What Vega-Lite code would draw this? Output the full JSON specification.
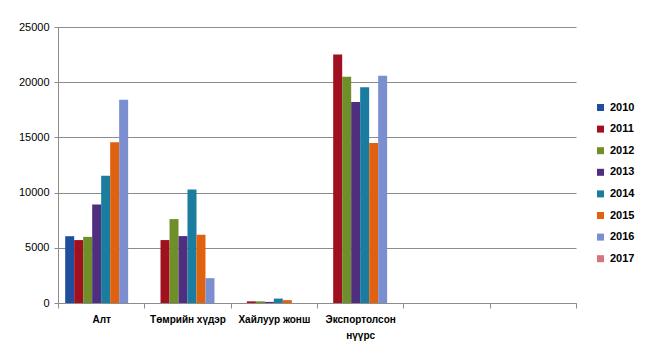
{
  "$schema": "https://vega.github.io/schema/vega-lite/v6.json",
  "autosize": {"type": "none"},
  "padding": {"left": 58, "top": 27, "right": 74, "bottom": 60},
  "width": 518,
  "height": 276,
  "background": "white",
  "config": {
    "view": {"stroke": null},
    "font": "Liberation Sans"
  },
  "data": {
    "values": [
      {"cat": "Алт", "year": "2010", "value": 6050},
      {"cat": "Алт", "year": "2011", "value": 5700},
      {"cat": "Алт", "year": "2012", "value": 5990},
      {"cat": "Алт", "year": "2013", "value": 8930},
      {"cat": "Алт", "year": "2014", "value": 11520},
      {"cat": "Алт", "year": "2015", "value": 14550},
      {"cat": "Алт", "year": "2016", "value": 18400},
      {"cat": "Төмрийн хүдэр", "year": "2011", "value": 5700},
      {"cat": "Төмрийн хүдэр", "year": "2012", "value": 7600},
      {"cat": "Төмрийн хүдэр", "year": "2013", "value": 6060},
      {"cat": "Төмрийн хүдэр", "year": "2014", "value": 10280},
      {"cat": "Төмрийн хүдэр", "year": "2015", "value": 6180},
      {"cat": "Төмрийн хүдэр", "year": "2016", "value": 2250},
      {"cat": "Хайлуур жонш", "year": "2011", "value": 150},
      {"cat": "Хайлуур жонш", "year": "2012", "value": 150},
      {"cat": "Хайлуур жонш", "year": "2013", "value": 100},
      {"cat": "Хайлуур жонш", "year": "2014", "value": 400},
      {"cat": "Хайлуур жонш", "year": "2015", "value": 260},
      {"cat": "Экспортолсон нүүрс", "year": "2011", "value": 22500},
      {"cat": "Экспортолсон нүүрс", "year": "2012", "value": 20500},
      {"cat": "Экспортолсон нүүрс", "year": "2013", "value": 18200},
      {"cat": "Экспортолсон нүүрс", "year": "2014", "value": 19540},
      {"cat": "Экспортолсон нүүрс", "year": "2015", "value": 14490},
      {"cat": "Экспортолсон нүүрс", "year": "2016", "value": 20580}
    ]
  },
  "mark": {"type": "bar"},
  "encoding": {
    "x": {
      "field": "cat",
      "type": "nominal",
      "sort": null,
      "scale": {
        "domain": ["Алт", "Төмрийн хүдэр", "Хайлуур жонш", "Экспортолсон нүүрс", "e5", "e6"],
        "paddingInner": 0,
        "paddingOuter": 0
      },
      "axis": {
        "title": null,
        "labelAngle": 0,
        "labelFontSize": 10,
        "labelFontWeight": "bold",
        "labelColor": "#000000",
        "labelPadding": 6,
        "labelExpr": "datum.value == 'Экспортолсон нүүрс' ? ['Экспортолсон', 'нүүрс'] : (datum.value == 'e5' || datum.value == 'e6' ? '' : datum.value)",
        "labelLineHeight": 16,
        "tickBand": "extent",
        "tickColor": "#8c8c8c",
        "tickSize": 5,
        "domainColor": "#8c8c8c",
        "grid": false
      }
    },
    "xOffset": {
      "field": "year",
      "type": "nominal",
      "scale": {
        "domain": ["2010", "2011", "2012", "2013", "2014", "2015", "2016", "2017"],
        "paddingInner": 0,
        "paddingOuter": 0.8
      }
    },
    "y": {
      "field": "value",
      "type": "quantitative",
      "scale": {"domain": [0, 25000], "nice": false},
      "axis": {
        "title": null,
        "values": [0, 5000, 10000, 15000, 20000, 25000],
        "format": "d",
        "labelFontSize": 11,
        "labelColor": "#000000",
        "labelPadding": 5,
        "gridColor": "#8c8c8c",
        "domainColor": "#8c8c8c",
        "tickColor": "#8c8c8c",
        "tickSize": 4
      }
    },
    "color": {
      "field": "year",
      "type": "nominal",
      "scale": {
        "domain": ["2010", "2011", "2012", "2013", "2014", "2015", "2016", "2017"],
        "range": ["#1f4e9c", "#a0101e", "#6f8f2a", "#4f2d7f", "#1a7c9e", "#e0620f", "#7b8fd0", "#d7727f"]
      },
      "legend": {
        "title": null,
        "orient": "none",
        "legendX": 537,
        "legendY": 75,
        "symbolType": "square",
        "symbolSize": 49,
        "symbolStrokeWidth": 0,
        "labelFontSize": 11,
        "labelFontWeight": "bold",
        "labelColor": "#000000",
        "labelOffset": 4,
        "rowPadding": 9.6
      }
    }
  }
}
